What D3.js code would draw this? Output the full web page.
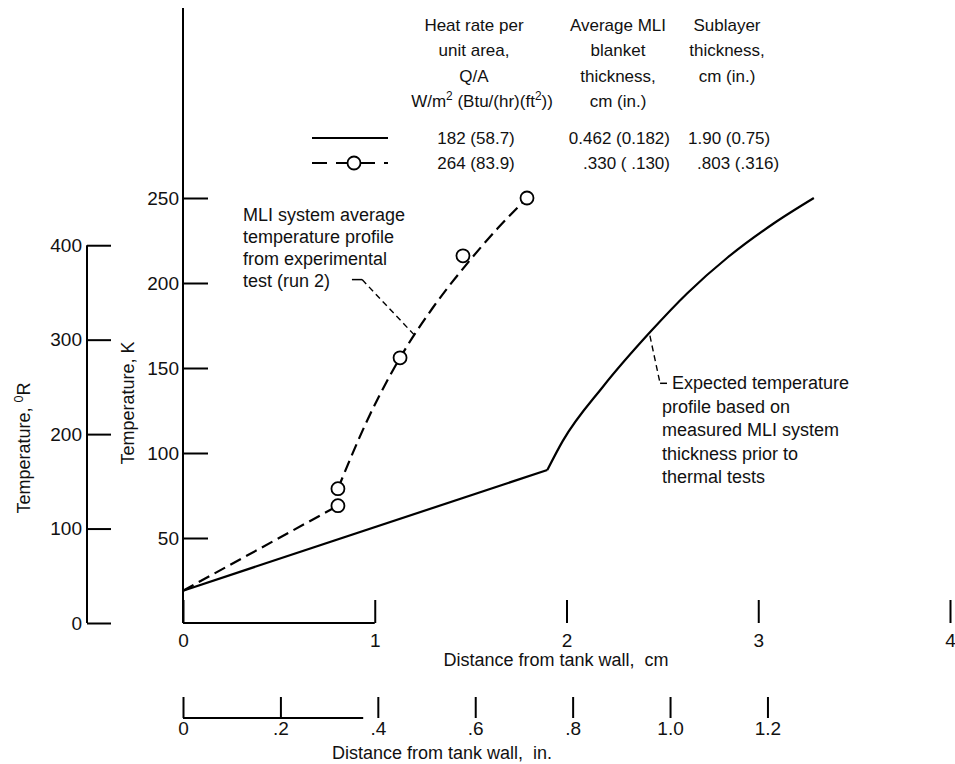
<!DOCTYPE html>
<html>
<head>
<meta charset="utf-8">
<script src="https://cdn.jsdelivr.net/npm/d3@7"></script>
<style>
  body { margin: 0; background: #fff; }
  svg { display: block; }
  text { font-family: "Liberation Sans", Arial, sans-serif; fill: #111; }
  .num { font-family: "Liberation Sans Narrow", "Liberation Sans", Arial, sans-serif; }
</style>
</head>
<body>
<svg id="chart" width="955" height="764"></svg>
<script>
/* ============================================================
   MLI temperature profile vs distance from tank wall
   ============================================================ */

// ---- tick values ----
var kTicks  = [50, 100, 150, 200, 250];
var rTicks  = [0, 100, 200, 300, 400];
var cmTicks = [0, 1, 2, 3, 4];
var inTicks = [0, 0.2, 0.4, 0.6, 0.8, 1.0, 1.2];
var inTickLabels = ['0', '.2', '.4', '.6', '.8', '1.0', '1.2'];

// ---- expected profile (solid), [cm, K] ----
var expectedWall  = [[0, 19], [1.90, 90]];
var expectedOuter = [[1.90, 90], [1.98, 107], [2.19, 139], [2.435, 171], [2.63, 194],
                     [2.84, 215], [3.08, 235], [3.29, 250]];

// ---- run 2 experimental profile (dashed) and measured points, [cm, K] ----
var run2Points = [[0.808, 69], [0.808, 79], [1.132, 156], [1.46, 216], [1.794, 250]];
var run2Wall   = [[0, 19], [0.808, 69]];
var run2Outer  = [[0.808, 79], [0.96, 119], [1.132, 156], [1.30, 185],
                  [1.486, 212], [1.64, 232], [1.794, 250]];

// ---- legend table ----
var legendHeads = [
    ['Heat rate per', 'unit area,', 'Q/A', 'W/m^2 (Btu/(hr)(ft^2))'],
    ['Average MLI', 'blanket', 'thickness,', 'cm (in.)'],
    ['Sublayer', 'thickness,', 'cm (in.)']
];
var legendStyles = ['solid', 'dashed'];
var legendHeat   = ['182 (58.7)', '264 (83.9)'];
var legendMli    = ['0.462 (0.182)', '.330 ( .130)'];
var legendSub    = ['1.90 (0.75)', '.803 (.316)'];

// ---- annotations ----
var ann1Lines  = ['MLI system average', 'temperature profile', 'from experimental', 'test (run 2)'];
var ann1Leader = [[0.881, 202], [0.934, 202], [1.21, 169]];
var ann2Lines  = ['Expected temperature', 'profile based on', 'measured MLI system', 'thickness prior to', 'thermal tests'];
var ann2Leader = [[2.435, 169], [2.488, 141], [2.524, 141]];

// ============================================================
var svg = d3.select('#chart');
svg.append('rect').attr('width', 955).attr('height', 764).attr('fill', '#fff');

var X0 = 183, X4 = 950, Y0 = 623;
var x  = d3.scaleLinear().domain([0, 4]).range([X0, X4]);
var xIn = d3.scaleLinear().domain([0, 4 / 2.54]).range([X0, X4]);
var yK = d3.scaleLinear().domain([0, 250]).range([Y0, Y0 - 425]);
var yR = d3.scaleLinear().domain([0, 400]).range([yK(0), yK(400 / 1.8)]);

function styleAxis(g, fs) {
    g.select('.domain').remove();
    g.selectAll('.tick line').attr('stroke', '#000').attr('stroke-width', 2);
    g.selectAll('.tick text').attr('class', 'num').style('font-size', fs + 'px');
}

// supports "^2" superscripts
function richText(sel, str) {
    var parts = str.split(/\^(\S)/);
    parts.forEach(function(p, i) {
        if (!p) return;
        var t = sel.append('tspan').text(p);
        if (i % 2 === 1) t.attr('baseline-shift', 'super').style('font-size', '70%');
    });
}

// ---- K axis ----
var gK = svg.append('g').attr('transform', 'translate(' + X0 + ',0)')
    .call(d3.axisLeft(yK).tickValues(kTicks).tickSize(-25).tickPadding(4));
styleAxis(gK, 19);
svg.append('line').attr('x1', X0).attr('x2', X0).attr('y1', 8).attr('y2', Y0)
    .attr('stroke', '#000').attr('stroke-width', 2);

// ---- Rankine axis ----
var RX = 87;
var gR = svg.append('g').attr('transform', 'translate(' + RX + ',0)')
    .call(d3.axisLeft(yR).tickValues(rTicks).tickSize(-24).tickPadding(5));
styleAxis(gR, 19);
svg.append('line').attr('x1', RX).attr('x2', RX).attr('y1', yR(400)).attr('y2', yR(0))
    .attr('stroke', '#000').attr('stroke-width', 2);

// ---- cm axis ----
var gX = svg.append('g').attr('transform', 'translate(0,' + Y0 + ')')
    .call(d3.axisBottom(x).tickValues(cmTicks).tickFormat(d3.format('d')).tickSize(-23).tickPadding(11));
styleAxis(gX, 19);
svg.append('line').attr('x1', x(0)).attr('x2', x(1)).attr('y1', Y0).attr('y2', Y0)
    .attr('stroke', '#000').attr('stroke-width', 2);

// ---- inch axis ----
var YIN = 718;
var gIn = svg.append('g').attr('transform', 'translate(0,' + YIN + ')')
    .call(d3.axisBottom(xIn).tickValues(inTicks)
        .tickFormat(function(d, i) { return inTickLabels[i]; }).tickSize(-21).tickPadding(4));
styleAxis(gIn, 19);
svg.append('line').attr('x1', xIn(0)).attr('x2', xIn(0.37)).attr('y1', YIN).attr('y2', YIN)
    .attr('stroke', '#000').attr('stroke-width', 2);

// ---- axis titles ----
svg.append('text').attr('x', 556).attr('y', 660).attr('dy', '0.35em')
    .attr('text-anchor', 'middle').style('font-size', '18px').style('white-space', 'pre')
    .text('Distance from tank wall,  cm');
svg.append('text').attr('x', 442).attr('y', 753).attr('dy', '0.35em')
    .attr('text-anchor', 'middle').style('font-size', '18px').style('white-space', 'pre')
    .text('Distance from tank wall,  in.');
svg.append('text').attr('transform', 'translate(128,403) rotate(-90)').attr('dy', '0.35em')
    .attr('text-anchor', 'middle').style('font-size', '18px')
    .text('Temperature, K');
richText(svg.append('text').attr('transform', 'translate(24,448) rotate(-90)').attr('dy', '0.35em')
    .attr('text-anchor', 'middle').style('font-size', '18px'), 'Temperature, ^0R');

// ---- curves ----
var straight = d3.line().x(function(d) { return x(d[0]); }).y(function(d) { return yK(d[1]); });
var smooth = d3.line().x(function(d) { return x(d[0]); }).y(function(d) { return yK(d[1]); })
    .curve(d3.curveMonotoneX);

[straight(expectedWall), smooth(expectedOuter)].forEach(function(p) {
    svg.append('path').attr('d', p).attr('fill', 'none').attr('stroke', '#000')
        .attr('stroke-width', 2.2).attr('stroke-linejoin', 'round');
});
[straight(run2Wall), smooth(run2Outer)].forEach(function(p) {
    svg.append('path').attr('d', p).attr('fill', 'none').attr('stroke', '#000')
        .attr('stroke-width', 2.2).attr('stroke-dasharray', '12,6');
});
svg.selectAll('circle.pt').data(run2Points).enter().append('circle')
    .attr('class', 'pt')
    .attr('cx', function(d) { return x(d[0]); })
    .attr('cy', function(d) { return yK(d[1]); })
    .attr('r', 6.5).attr('fill', '#fff').attr('stroke', '#000').attr('stroke-width', 1.8);

// ---- annotations ----
var ann1 = svg.append('text').style('font-size', '18px');
ann1Lines.forEach(function(s, i) {
    ann1.append('tspan').attr('x', 243).attr('y', 215 + i * 22).attr('dy', '0.35em').text(s);
});
svg.append('line')
    .attr('x1', x(ann1Leader[0][0])).attr('y1', yK(ann1Leader[0][1]))
    .attr('x2', x(ann1Leader[1][0])).attr('y2', yK(ann1Leader[1][1]))
    .attr('stroke', '#000').attr('stroke-width', 1.5);
svg.append('line')
    .attr('x1', x(ann1Leader[1][0])).attr('y1', yK(ann1Leader[1][1]))
    .attr('x2', x(ann1Leader[2][0])).attr('y2', yK(ann1Leader[2][1]))
    .attr('stroke', '#000').attr('stroke-width', 1.4).attr('stroke-dasharray', '6,4');

var ann2 = svg.append('text').style('font-size', '18px');
ann2Lines.forEach(function(s, i) {
    ann2.append('tspan').attr('x', i === 0 ? 672 : 662).attr('y', 383 + i * 23.5).attr('dy', '0.35em').text(s);
});
svg.append('line')
    .attr('x1', x(ann2Leader[0][0])).attr('y1', yK(ann2Leader[0][1]))
    .attr('x2', x(ann2Leader[1][0])).attr('y2', yK(ann2Leader[1][1]))
    .attr('stroke', '#000').attr('stroke-width', 1.4).attr('stroke-dasharray', '6,4');
svg.append('line')
    .attr('x1', x(ann2Leader[1][0])).attr('y1', yK(ann2Leader[1][1]))
    .attr('x2', x(ann2Leader[2][0])).attr('y2', yK(ann2Leader[2][1]))
    .attr('stroke', '#000').attr('stroke-width', 1.5);

// ---- legend table ----
var headX = [474, 618, 727];
var headY = [25, 50, 76, 101];
legendHeads.forEach(function(col, c) {
    col.forEach(function(s, r) {
        richText(svg.append('text').attr('x', headX[c] + (r === 3 && c === 0 ? 8 : 0)).attr('y', headY[r])
            .attr('dy', '0.35em').attr('text-anchor', 'middle').style('font-size', '17px'), s);
    });
});

var rowY = [138, 163];
var subX = [688, 697];
legendStyles.forEach(function(st, i) {
    var y = rowY[i];
    var ln = svg.append('line').attr('x1', 312).attr('x2', 388).attr('y1', y).attr('y2', y)
        .attr('stroke', '#000').attr('stroke-width', 2);
    if (st === 'dashed') {
        ln.attr('stroke-dasharray', '15,9');
        svg.append('circle').attr('cx', 354).attr('cy', y).attr('r', 6.5)
            .attr('fill', '#fff').attr('stroke', '#000').attr('stroke-width', 1.8);
    }
    svg.append('text').attr('x', 476).attr('y', y).attr('dy', '0.35em').attr('text-anchor', 'middle')
        .style('font-size', '17px').text(legendHeat[i]);
    svg.append('text').attr('x', 670).attr('y', y).attr('dy', '0.35em').attr('text-anchor', 'end')
        .style('font-size', '17px').style('white-space', 'pre').text(legendMli[i]);
    svg.append('text').attr('x', subX[i]).attr('y', y).attr('dy', '0.35em')
        .style('font-size', '17px').text(legendSub[i]);
});
</script>
</body>
</html>
